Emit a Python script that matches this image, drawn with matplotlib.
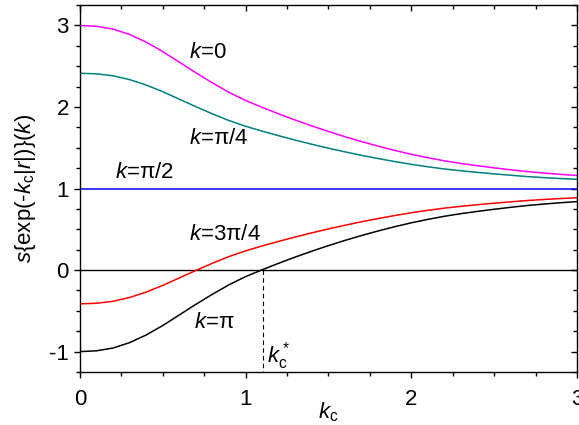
import matplotlib
matplotlib.use("Agg")
import matplotlib.pyplot as plt
from matplotlib.ticker import MultipleLocator

plt.rcParams['font.family'] = ['Liberation Sans', 'DejaVu Sans']
plt.rcParams['mathtext.fontset'] = 'custom'
plt.rcParams['mathtext.rm'] = 'Liberation Sans'
plt.rcParams['mathtext.it'] = 'Liberation Sans:italic'
plt.rcParams['mathtext.cal'] = 'Liberation Sans'

# ---- data ----
kc = [0.0, 0.1, 0.2, 0.3, 0.4, 0.5, 0.6, 0.7, 0.8, 0.9, 1.0,
      1.1, 1.2, 1.3, 1.4, 1.5, 1.6, 1.7, 1.8, 1.9, 2.0,
      2.1, 2.2, 2.3, 2.4, 2.5, 2.6, 2.7, 2.8, 2.9, 3.0]

s_k0 = [3.000, 2.990, 2.956, 2.890, 2.796, 2.680, 2.550, 2.420, 2.296, 2.180, 2.080,
        1.996, 1.916, 1.840, 1.768, 1.700, 1.636, 1.576, 1.520, 1.468, 1.420,
        1.378, 1.340, 1.308, 1.280, 1.254, 1.230, 1.208, 1.190, 1.174, 1.160]

s_kpi4 = [2.414, 2.407, 2.383, 2.336, 2.270, 2.188, 2.096, 2.004, 1.916, 1.834, 1.764,
          1.704, 1.648, 1.594, 1.543, 1.495, 1.450, 1.407, 1.368, 1.331, 1.297,
          1.267, 1.240, 1.218, 1.198, 1.180, 1.163, 1.147, 1.134, 1.123, 1.113]

kc_flat = [0.0, 3.0]
s_kpi2 = [1.0, 1.0]

s_k3pi4 = [-0.414, -0.407, -0.383, -0.336, -0.270, -0.188, -0.096, -0.004, 0.084, 0.166, 0.236,
           0.296, 0.352, 0.406, 0.457, 0.505, 0.550, 0.593, 0.632, 0.669, 0.703,
           0.733, 0.760, 0.782, 0.802, 0.820, 0.837, 0.853, 0.866, 0.877, 0.887]

s_kpi = [-1.000, -0.990, -0.956, -0.890, -0.796, -0.680, -0.550, -0.420, -0.296, -0.180, -0.080,
         0.004, 0.084, 0.160, 0.232, 0.300, 0.364, 0.424, 0.480, 0.532, 0.580,
         0.622, 0.660, 0.692, 0.720, 0.746, 0.770, 0.792, 0.810, 0.826, 0.840]

kc_star = 1.104

xticks = [0, 1, 2, 3]
yticks = [-1, 0, 1, 2, 3]

# ---- figure ----
fig = plt.figure(figsize=(5.79, 4.25), dpi=100)
ax = fig.add_axes([0.138, 0.1247, 0.8585, 0.8633])

lw = 1.1
ax.axhline(0, color='black', lw=1.0)
ax.plot(kc, s_k0, color='#FF00FF', lw=lw)
ax.plot(kc, s_kpi4, color='#008080', lw=lw)
ax.plot(kc_flat, s_kpi2, color='#0000FF', lw=lw)
ax.plot(kc, s_k3pi4, color='#FF0000', lw=lw)
ax.plot(kc, s_kpi, color='black', lw=lw)
ax.plot([kc_star, kc_star], [0, -1.25], color='black', lw=0.8, ls=(0, (4, 3)))

ax.set_xlim(0, 3)
ax.set_ylim(-1.25, 3.25)
ax.set_xticks(xticks)
ax.set_yticks(yticks)
ax.set_xticklabels([str(t) for t in xticks])
ax.set_yticklabels([str(t) for t in yticks])
ax.xaxis.set_minor_locator(MultipleLocator(0.25))
ax.yaxis.set_minor_locator(MultipleLocator(0.25))

for sp in ax.spines.values():
    sp.set_linewidth(1.0)

ax.tick_params(axis='both', which='major', direction='out', length=4, width=1.0,
               labelsize=16)
ax.tick_params(axis='y', which='major', pad=4)
ax.tick_params(axis='x', which='major', pad=8)
ax.tick_params(axis='both', which='minor', direction='out', length=3, width=1.0)
ax.tick_params(axis='both', which='both', top=True, right=True)
# top/right ticks point inward
for t in ax.xaxis.get_major_ticks() + ax.xaxis.get_minor_ticks():
    t.tick2line.set_marker(3)  # TICKDOWN
for t in ax.yaxis.get_major_ticks() + ax.yaxis.get_minor_ticks():
    t.tick2line.set_marker(0)  # TICKLEFT

ax.set_xlabel(r'$k_\mathrm{c}$', fontsize=16)
ax.xaxis.set_label_coords(0.5, -0.078)
ax.set_ylabel(r'$s$' + '{exp(-' + r'$k_\mathrm{c}$' + '|' + r'$r$' + '|)}(' + r'$k$' + ')',
              fontsize=16, labelpad=8)

fs = 16
ax.text(0.66, 2.67, r'$k$=0', fontsize=fs, va='center', ha='left')
ax.text(0.66, 1.62, r'$k$=π/4', fontsize=fs, va='center', ha='left')
ax.text(0.21, 1.20, r'$k$=π/2', fontsize=fs, va='center', ha='left')
ax.text(0.66, 0.44, r'$k$=3π/4', fontsize=fs, va='center', ha='left')
ax.text(0.69, -0.64, r'$k$=π', fontsize=fs, va='center', ha='left')
ax.text(1.13, -1.05, r'$k_\mathrm{c}^*$', fontsize=fs, va='center', ha='left')

fig.savefig('out.png', dpi=100)
